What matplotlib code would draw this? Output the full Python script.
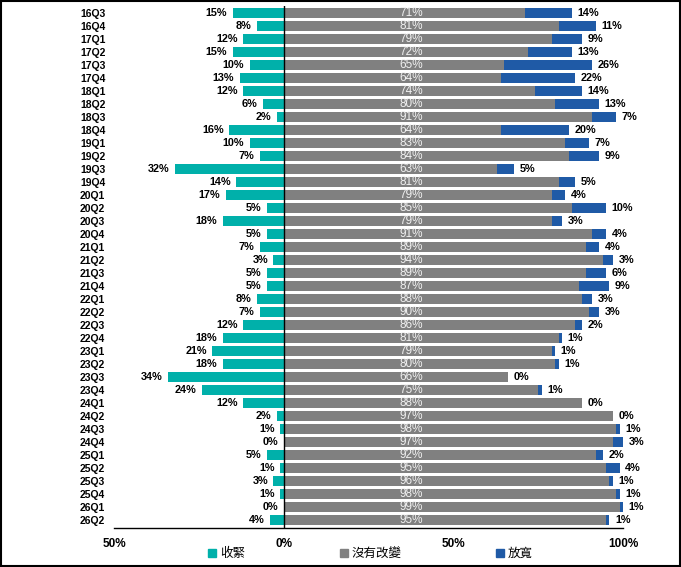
import matplotlib
matplotlib.use('Agg')
import matplotlib.pyplot as plt
from matplotlib.lines import Line2D
from matplotlib.patches import Rectangle
import numpy as np

plt.rcParams['font.family'] = ['Liberation Sans', 'Noto Sans CJK TC', 'DejaVu Sans']

# data (percent of respondents)
quarters = ['16Q3', '16Q4', '17Q1', '17Q2', '17Q3', '17Q4', '18Q1', '18Q2', '18Q3', '18Q4',
            '19Q1', '19Q2', '19Q3', '19Q4', '20Q1', '20Q2', '20Q3', '20Q4', '21Q1', '21Q2',
            '21Q3', '21Q4', '22Q1', '22Q2', '22Q3', '22Q4', '23Q1', '23Q2', '23Q3', '23Q4',
            '24Q1', '24Q2', '24Q3', '24Q4', '25Q1', '25Q2', '25Q3', '25Q4', '26Q1', '26Q2']
tighten = [15, 8, 12, 15, 10, 13, 12, 6, 2, 16,
           10, 7, 32, 14, 17, 5, 18, 5, 7, 3,
           5, 5, 8, 7, 12, 18, 21, 18, 34, 24,
           12, 2, 1, 0, 5, 1, 3, 1, 0, 4]
no_change = [71, 81, 79, 72, 65, 64, 74, 80, 91, 64,
             83, 84, 63, 81, 79, 85, 79, 91, 89, 94,
             89, 87, 88, 90, 86, 81, 79, 80, 66, 75,
             88, 97, 98, 97, 92, 95, 96, 98, 99, 95]
ease = [14, 11, 9, 13, 26, 22, 14, 13, 7, 20,
        7, 9, 5, 5, 4, 10, 3, 4, 4, 3,
        6, 9, 3, 3, 2, 1, 1, 1, 0, 1,
        0, 0, 1, 3, 2, 4, 1, 1, 1, 1]
series_names = ['收緊', '沒有改變', '放寬']
xtick_vals = [-50, 0, 50, 100]
xtick_labels = ['50%', '0%', '50%', '100%']

c_teal = '#00b0aa'
c_gray = '#808080'
c_blue = '#1f5aa6'

fig = plt.figure(figsize=(6.81, 5.67), dpi=100)
ax = fig.add_axes([0.1674, 0.0688, 0.7474, 0.920])

y = np.arange(len(quarters))
t = np.array(tighten)
n = np.array(no_change)
e = np.array(ease)
h = 0.76

ax.barh(y, -t, height=h, color=c_teal)
ax.barh(y, n, height=h, color=c_gray)
ax.barh(y, e, left=n, height=h, color=c_blue)

for i in range(len(quarters)):
    ax.annotate(f'{t[i]}%', (-t[i], y[i]), xytext=(-4, 0), textcoords='offset points',
                ha='right', va='center', fontsize=7.8, fontweight='bold', color='black')
    ax.text(37.5, y[i], f'{n[i]}%', ha='center', va='center', fontsize=8.5,
            color='#f0f0f0')
    ax.annotate(f'{e[i]}%', (n[i] + e[i], y[i]), xytext=(4, 0), textcoords='offset points',
                ha='left', va='center', fontsize=7.8, fontweight='bold', color='black')

ax.axvline(0, color='black', lw=1)
ax.set_xlim(-50, 100)
ax.set_ylim(len(quarters) - 0.4, -0.5)

ax.set_xticks(xtick_vals)
ax.set_xticklabels(xtick_labels, fontsize=8.5, fontweight='bold')
ax.tick_params(axis='x', length=0, pad=7)
ax.set_yticks(y)
ax.set_yticklabels(quarters, fontsize=7.5, fontweight='bold', ha='left')
ax.tick_params(axis='y', length=0, pad=24.5)

for s in ['top', 'right', 'left']:
    ax.spines[s].set_visible(False)
ax.spines['bottom'].set_color('black')
ax.spines['bottom'].set_linewidth(1)

handles = [Line2D([], [], marker='s', ls='', color=c, markersize=5.5)
           for c in (c_teal, c_gray, c_blue)]
fig.legend(handles, series_names, loc='center', bbox_to_anchor=(0.544, 0.024), ncol=3,
           frameon=False, handlelength=0.6, handletextpad=0.3,
           columnspacing=7.6, prop={'family': ['Noto Sans CJK TC'], 'size': 9})

# outer frame of the picture
fig.patches.append(Rectangle((0.001, 0.001), 0.997, 0.997, transform=fig.transFigure,
                             fill=False, edgecolor='black', lw=1.5))

fig.savefig('out.png', dpi=100)
